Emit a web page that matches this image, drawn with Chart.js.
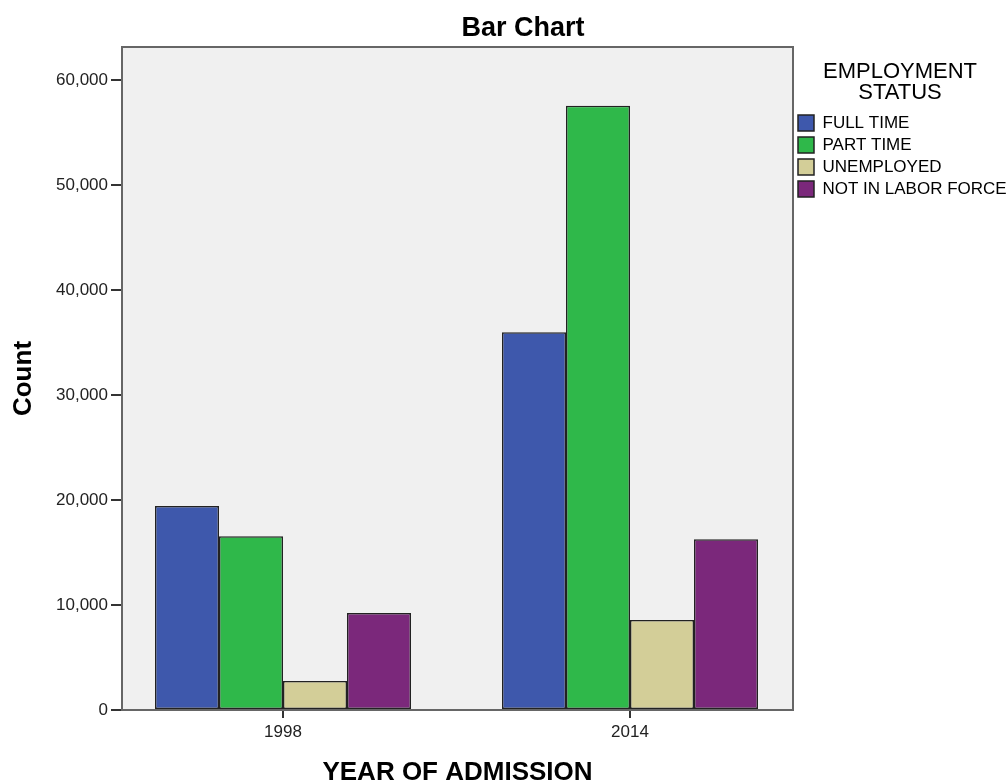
<!DOCTYPE html>
<html>
<head>
<meta charset="utf-8">
<script src="https://cdn.jsdelivr.net/npm/chart.js@4.4.1/dist/chart.umd.min.js"></script>
<style>
  body { margin: 0; background: #fff; }
  #wrap { width: 1007px; height: 783px; position: relative; }
</style>
</head>
<body>
<div id="wrap"><canvas id="barChart"></canvas></div>
<script>
const years = ['1998', '2014'];
const fullTime = [19430, 35970];
const partTime = [16540, 57550];
const unemployed = [2760, 8570];
const notInLaborForce = [9240, 16260];
const countTicks = [0, 10000, 20000, 30000, 40000, 50000, 60000];
const seriesNames = ['FULL TIME', 'PART TIME', 'UNEMPLOYED', 'NOT IN LABOR FORCE'];
const seriesColors = ['#3e58ac', '#2fb84a', '#d3ce98', '#7b287b'];

const FONT = '"Liberation Sans", Arial, sans-serif';

// years sit at 0 and 1 on a linear axis so the groups land where SPSS put them
const toPoints = (vals) => vals.map((v, i) => ({ x: i, y: v }));

const datasets = [fullTime, partTime, unemployed, notInLaborForce].map((vals, i) => ({
    label: seriesNames[i],
    data: toPoints(vals),
    backgroundColor: seriesColors[i],
    borderColor: '#222',
    borderWidth: 1.5,
    borderSkipped: false,
    categoryPercentage: 0.7378,
    barPercentage: 1
}));

const plotFrame = {
    id: 'plotFrame',
    beforeDraw(chart) {
        const { ctx, chartArea: a } = chart;
        ctx.save();
        ctx.fillStyle = '#f0f0f0';
        ctx.fillRect(a.left, a.top, a.right - a.left, a.bottom - a.top);
        ctx.restore();
    },
    afterDatasetsDraw(chart) {
        const { ctx, chartArea: a } = chart;
        ctx.save();
        ctx.strokeStyle = '#666';
        ctx.lineWidth = 2;
        ctx.strokeRect(a.left, a.top, a.right - a.left, a.bottom - a.top);
        ctx.restore();
    },
    afterDraw(chart) {
        const ctx = chart.ctx;
        ctx.save();
        ctx.fillStyle = '#000';
        ctx.font = 'bold 27px ' + FONT;
        ctx.textAlign = 'center';
        ctx.textBaseline = 'middle';
        ctx.fillText('Bar Chart', 523, 29);
        ctx.restore();
    }
};

const ctx = document.getElementById('barChart').getContext('2d');
const barChart = new Chart(ctx, {
    type: 'bar',
    data: { datasets: datasets },
    options: {
        responsive: true,
        maintainAspectRatio: false,
        animation: false,
        layout: { padding: { top: 47, left: 0, right: 0, bottom: 0 } },
        plugins: {
            title: { display: false },
            tooltip: { enabled: false },
            legend: {
                position: 'right',
                align: 'start',
                maxWidth: 214,
                title: {
                    display: true,
                    text: ['EMPLOYMENT', 'STATUS'],
                    position: 'center',
                    color: '#000',
                    font: { family: FONT, size: 22, lineHeight: '21px' },
                    padding: { top: 14, bottom: 27.5 }
                },
                labels: {
                    boxWidth: 16,
                    boxHeight: 16,
                    padding: 5,
                    color: '#000',
                    font: { family: FONT, size: 17 }
                }
            }
        },
        scales: {
            x: {
                type: 'linear',
                offset: false,
                min: -0.46398,
                max: 1.46974,
                afterBuildTicks: (scale) => {
                    scale.ticks = years.map((y, i) => ({ value: i }));
                },
                afterFit: (scale) => { scale.height = 73; },
                grid: {
                    display: true,
                    offset: false,
                    drawOnChartArea: false,
                    drawTicks: true,
                    tickLength: 8,
                    color: '#333',
                    lineWidth: 2
                },
                border: { display: true, color: '#333', width: 2 },
                ticks: {
                    color: '#222',
                    padding: 4,
                    maxRotation: 0,
                    autoSkip: false,
                    font: { family: FONT, size: 17 },
                    callback: (value) => years[value]
                },
                title: {
                    display: true,
                    text: 'YEAR OF ADMISSION',
                    color: '#000',
                    font: { family: FONT, size: 26, weight: 'bold', lineHeight: 1 },
                    padding: { top: 0, bottom: -3 }
                }
            },
            y: {
                min: 0,
                max: 63143,
                afterBuildTicks: (scale) => {
                    scale.ticks = countTicks.map(v => ({ value: v }));
                },
                afterFit: (scale) => { scale.width = 122; },
                grid: {
                    display: true,
                    drawOnChartArea: false,
                    drawTicks: true,
                    tickLength: 11,
                    color: '#333',
                    lineWidth: 2
                },
                border: { display: true, color: '#333', width: 2 },
                ticks: {
                    color: '#222',
                    padding: 3,
                    autoSkip: false,
                    font: { family: FONT, size: 17 },
                    callback: (value) => value.toLocaleString('en-US')
                },
                title: {
                    display: true,
                    text: 'Count',
                    color: '#000',
                    font: { family: FONT, size: 26, weight: 'bold' },
                    padding: { top: 8, bottom: 0 }
                }
            }
        }
    },
    plugins: [plotFrame]
});
</script>
</body>
</html>
